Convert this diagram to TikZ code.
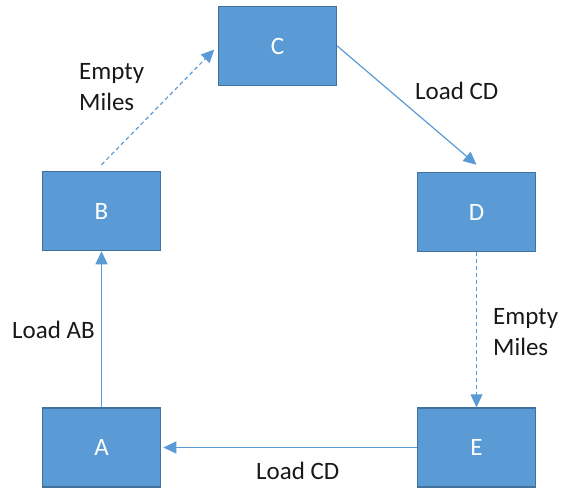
\documentclass[tikz,border=0pt]{standalone}
\usepackage{fontspec}
\setmainfont{Carlito}
\usetikzlibrary{arrows.meta}
\definecolor{boxfill}{HTML}{5B9BD5}
\definecolor{boxline}{HTML}{41719C}
\definecolor{arrowc}{HTML}{5B9BD5}
\tikzset{
  nodebox/.style={draw=boxline, fill=boxfill, line width=1.5pt, minimum width=118pt, minimum height=79pt, text=white, font=\fontsize{25}{31}\selectfont, inner sep=0pt},
  conn/.style={draw=arrowc, line width=1.2pt, -{Triangle[length=13pt,width=12pt]}},
  dashconn/.style={conn, dash pattern=on 4pt off 3pt},
  lbl/.style={font=\fontsize{25}{31}\selectfont, text=black!90, inner sep=0pt, align=left, anchor=base west}
}
\begin{document}
\begin{tikzpicture}[x=1pt,y=-1pt]
\useasboundingbox (0,0) rectangle (562,488);
\node[nodebox] (C) at (277.5,46) {C};
\node[nodebox] (B) at (101.5,211) {B};
\node[nodebox] (D) at (476.5,212) {D};
\node[nodebox] (A) at (101.5,447.5) {A};
\node[nodebox] (E) at (476.5,447.5) {E};
\draw[conn] (A.north) -- (B.south);
\draw[dashconn, shorten >=5pt] ([yshift=6pt]B.north) -- (C.west);
\draw[conn] (C.east) -- ([yshift=7pt]D.north);
\draw[dashconn] (D.south) -- (E.north);
\draw[conn, shorten >=2pt] (E.west) -- (A.east);
\node[lbl] (l1) at (79,110) {Empty\\Miles};
\node[lbl] (l2) at (415,99) {Load CD};
\node[lbl] (l3) at (12,338) {Load AB};
\node[lbl] (l4) at (493,355) {Empty\\Miles};
\node[lbl] (l5) at (256,479) {Load CD};
\end{tikzpicture}
\end{document}
